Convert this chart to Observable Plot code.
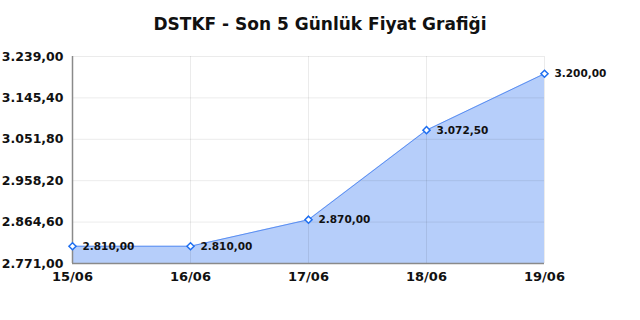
<!DOCTYPE html>
<html>
<head>
<meta charset="utf-8">
<script src="https://cdn.jsdelivr.net/npm/d3@7"></script>
<script src="https://cdn.jsdelivr.net/npm/@observablehq/plot@0.6"></script>
<style>
  html, body { margin: 0; padding: 0; background: #fff; }
  #title { width: 640px; height: 40px; font: bold 17px "DejaVu Sans"; text-align: center; line-height: 17px; padding-top: 16px; box-sizing: border-box; color: #111; }
  svg { display: block; }
</style>
</head>
<body>
<div id="title">DSTKF - Son 5 Günlük Fiyat Grafiği</div>
<div id="chart"></div>
<script>
const dates = ["15/06", "16/06", "17/06", "18/06", "19/06"];
const prices = [2810.00, 2810.00, 2870.00, 3072.50, 3200.00];
const yTicks = [2771.00, 2864.60, 2958.20, 3051.80, 3145.40, 3239.00];

const trLocale = d3.formatLocale({decimal: ",", thousands: ".", grouping: [3], currency: ["", ""]});
const fmt = trLocale.format(",.2f");

const data = dates.map((d, i) => ({date: d, value: prices[i]}));
const yMin = yTicks[0];
const yMax = yTicks[yTicks.length - 1];

const chart = Plot.plot({
  width: 640,
  height: 280,
  marginTop: 16,
  marginBottom: 57,
  marginLeft: 72,
  marginRight: 96,
  style: {fontFamily: "DejaVu Sans", background: "#fff"},
  x: {type: "point", domain: dates, padding: 0, label: null},
  y: {domain: [yMin, yMax], label: null},
  marks: [
    Plot.areaY(data, {x: "date", y1: yMin, y2: "value", fill: "#b6cefa"}),
    Plot.ruleY(yTicks, {stroke: "#000", strokeOpacity: 0.08}),
    Plot.ruleX(dates, {stroke: "#000", strokeOpacity: 0.08}),
    Plot.lineY(data, {x: "date", y: "value", stroke: "#5a8ef2", strokeWidth: 1}),
    Plot.ruleX([dates[0]], {stroke: "#8a8a8a", strokeWidth: 1.5}),
    Plot.ruleY([yMin], {stroke: "#8a8a8a", strokeWidth: 1.5}),
    Plot.dot(data, {x: "date", y: "value", symbol: "diamond2", r: 3.2, stroke: "#1f6ff0", strokeWidth: 1.5, fill: "#fff"}),
    Plot.text(data, {x: "date", y: "value", text: d => fmt(d.value), textAnchor: "start", dx: 10, fontSize: 10.5, fontWeight: "bold", fill: "#111"}),
    Plot.axisY(yTicks, {tickFormat: fmt, tickSize: 0, tickPadding: 9, fontSize: 12.5, fontWeight: "bold", fill: "#111"}),
    Plot.axisX(dates, {tickSize: 0, tickPadding: 8, fontSize: 13, fontWeight: "bold", fill: "#111"})
  ]
});
document.getElementById("chart").appendChild(chart);
</script>
</body>
</html>
